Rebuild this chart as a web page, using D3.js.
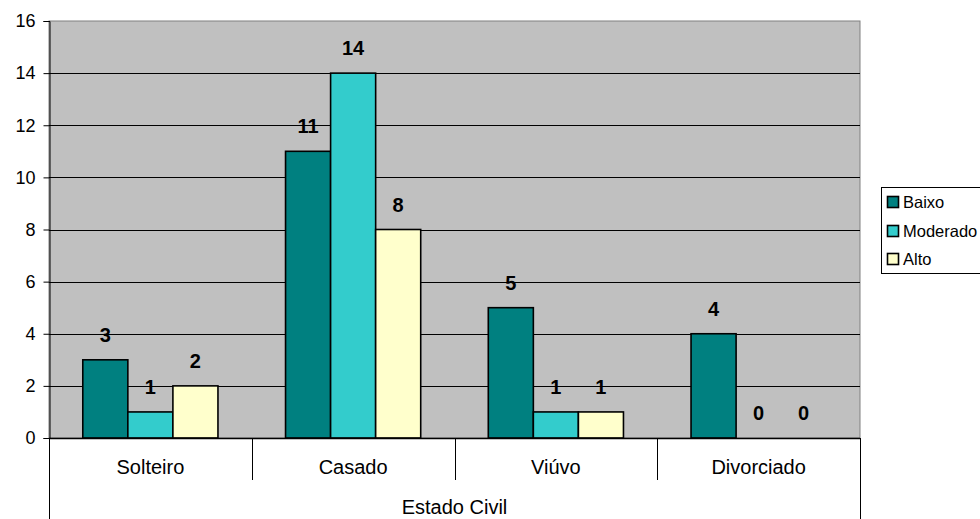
<!DOCTYPE html>
<html><head><meta charset="utf-8">
<script src="https://cdn.jsdelivr.net/npm/d3@7/dist/d3.min.js"></script>
<style>body{margin:0;background:#fff}svg{display:block;font-family:"Liberation Sans",Arial,sans-serif}</style>
</head><body>
<svg id="c" width="980" height="519"></svg>
<script>
const categories = ["Solteiro", "Casado", "Viúvo", "Divorciado"];
const series = ["Baixo", "Moderado", "Alto"];
const baixo = [3, 11, 5, 4];
const moderado = [1, 14, 1, 0];
const alto = [2, 8, 1, 0];
const yTicks = [0, 2, 4, 6, 8, 10, 12, 14, 16];
const axisTitle = "Estado Civil";
const colors = ["#008080", "#33CCCC", "#FFFFCC"];

const values = [baixo, moderado, alto];
const svg = d3.select("#c");
const L = 49, R = 860, T = 21, B = 438;

const y = d3.scaleLinear().domain([0, 16]).range([B, T]);
const x0 = d3.scaleBand().domain(categories).range([L, R]).padding(0);
const x1 = d3.scaleBand().domain(series).range([0, x0.bandwidth()]).paddingInner(0).paddingOuter(0.75);

// plot background
svg.append("rect").attr("x", L).attr("y", T).attr("width", R - L).attr("height", B - T)
  .attr("fill", "#C0C0C0").attr("stroke", "#808080").attr("stroke-width", 1);

// gridlines
svg.append("g").selectAll("line").data(yTicks.filter(t => t > 0 && t < 16)).join("line")
  .attr("x1", L).attr("x2", R).attr("y1", d => Math.round(y(d)) + 0.5).attr("y2", d => Math.round(y(d)) + 0.5)
  .attr("stroke", "#000").attr("stroke-width", 1);

// y axis
const ya = svg.append("g").attr("transform", `translate(${L + 0.5},0)`)
  .call(d3.axisLeft(y).tickValues(yTicks).tickSize(6).tickPadding(8).tickFormat(d3.format("d")));
ya.select(".domain").attr("stroke", "#000");
ya.selectAll(".tick line").attr("stroke", "#000");
ya.selectAll("text").attr("font-size", 18).attr("fill", "#000").attr("font-family", "'Liberation Sans', Arial, sans-serif");

// bars
const groups = svg.append("g").selectAll("g").data(categories).join("g")
  .attr("transform", d => `translate(${x0(d)},0)`);
groups.selectAll("rect").data((c, i) => series.map((s, j) => ({ s, j, v: values[j][i] }))).join("rect")
  .filter(d => d.v > 0)
  .attr("x", d => x1(d.s)).attr("y", d => y(d.v)).attr("width", x1.bandwidth()).attr("height", d => y(0) - y(d.v))
  .attr("fill", d => colors[d.j]).attr("stroke", "#000").attr("stroke-width", 1.6);
groups.selectAll("text").data((c, i) => series.map((s, j) => ({ s, j, v: values[j][i] }))).join("text")
  .attr("x", d => x1(d.s) + x1.bandwidth() / 2).attr("y", d => y(d.v) - 18)
  .attr("text-anchor", "middle").attr("font-weight", "bold").attr("font-size", 20).text(d => d.v);

// x axis line
svg.append("line").attr("x1", L).attr("x2", R).attr("y1", B + 0.5).attr("y2", B + 0.5).attr("stroke", "#000").attr("stroke-width", 1.5);
// separators
const bounds = categories.map(c => x0(c)).concat([R]);
svg.append("g").selectAll("line").data(bounds).join("line")
  .attr("x1", d => Math.round(d) + 0.5).attr("x2", d => Math.round(d) + 0.5)
  .attr("y1", B).attr("y2", (d, i) => (i === 0 || i === bounds.length - 1) ? 519 : 480)
  .attr("stroke", "#000").attr("stroke-width", 1);
// category labels
svg.append("g").selectAll("text").data(categories).join("text")
  .attr("x", d => x0(d) + x0.bandwidth() / 2).attr("y", 474).attr("text-anchor", "middle")
  .attr("font-size", 20).text(d => d);
svg.append("text").attr("x", (L + R) / 2).attr("y", 514).attr("text-anchor", "middle").attr("font-size", 20).text(axisTitle);

// legend
const lg = svg.append("g");
lg.append("rect").attr("x", 881.5).attr("y", 187.5).attr("width", 110).attr("height", 86)
  .attr("fill", "#fff").attr("stroke", "#000").attr("stroke-width", 1);
const rows = [202, 231, 259];
series.forEach((s, j) => {
  lg.append("rect").attr("x", 887.5).attr("y", rows[j] - 5.5).attr("width", 11).attr("height", 11)
    .attr("fill", colors[j]).attr("stroke", "#000").attr("stroke-width", 1.6);
  lg.append("text").attr("x", 903).attr("y", rows[j] + 6).attr("font-size", 16.5).text(s);
});
</script>
</body></html>
